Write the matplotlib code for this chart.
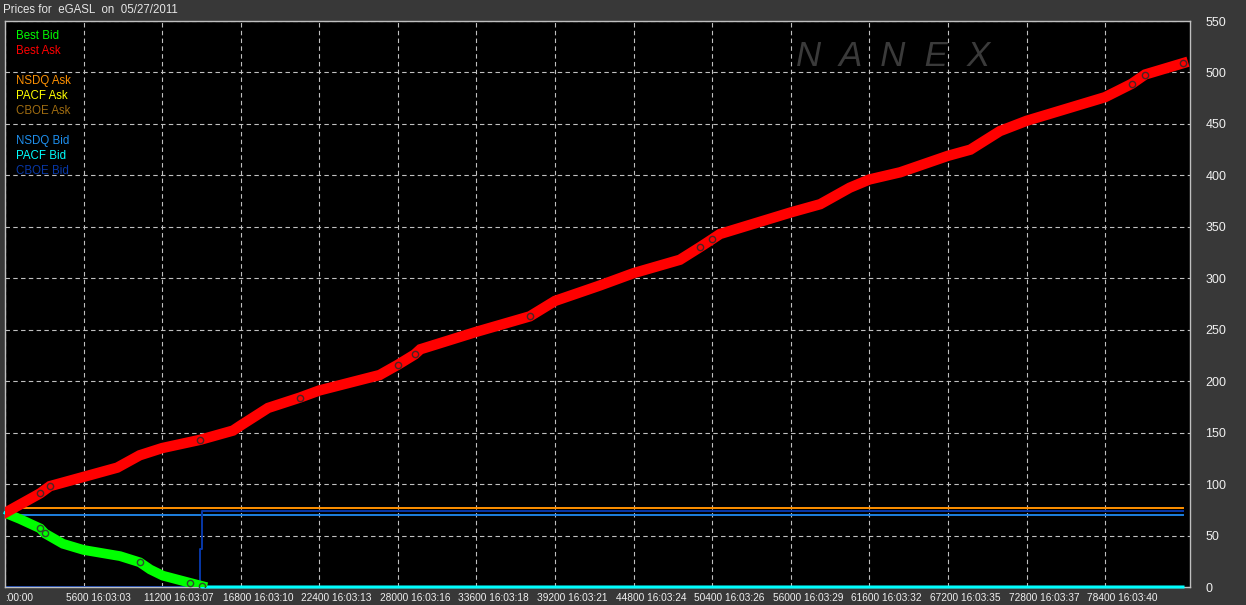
import matplotlib
matplotlib.use("Agg")
import matplotlib.pyplot as plt
import matplotlib.transforms as mtransforms

# ---- data ----
ask_t = [0, 2500, 3200, 5600, 8000, 9600, 11200, 13900, 16250, 16800, 18750, 21000,
         22400, 26700, 28000, 29200, 29600, 33600, 37400, 39200, 42400, 44800, 48100,
         49500, 50400, 50950, 56000, 58100, 60200, 61600, 63800, 67200, 68800, 70900,
         72800, 78400, 80300, 81250, 83950]
ask_v = [72, 91, 98, 107, 116, 128, 135, 143, 152, 157, 174, 184,
         191, 206, 216, 226, 231, 248, 263, 278, 293, 305, 318,
         330, 338, 343, 364, 372, 388, 396, 403, 419, 425, 443,
         453, 476, 489, 498, 509]
# spots where the ask trace shows darker quote circles
ask_ring_t = [2500, 3200, 13900, 21000, 28000, 29200, 37400, 49500, 50400, 80300, 81250, 83950]
ask_ring_v = [91, 98, 143, 184, 216, 226, 263, 330, 338, 489, 498, 509]

bid_t = [0, 1070, 2500, 2850, 4130, 5600, 8200, 9600, 10350, 11250, 13200, 14050]
bid_v = [72, 66, 57, 52, 42, 36, 30, 24, 17, 11, 4, 1]
bid_ring_t = [2500, 2850, 9600, 13200, 14050]
bid_ring_v = [57, 52, 24, 4, 1]

t_end = 83950
nsdq_ask = 76.5
nsdq_bid = 70
cboe_bid_t = [0, 13900, 13900, 14050, 14050, t_end]
cboe_bid_v = [0, 0, 37, 37, 73.4, 73.4]
pacf_bid_t = bid_t + [t_end]
pacf_bid_v = bid_v[:-1] + [0, 0]

xticks = [0, 5600, 11200, 16800, 22400, 28000, 33600, 39200, 44800, 50400,
          56000, 61600, 67200, 72800, 78400]
xtimes = [":00:00", "16:03:03", "16:03:07", "16:03:10", "16:03:13", "16:03:16",
          "16:03:18", "16:03:21", "16:03:24", "16:03:26", "16:03:29", "16:03:32",
          "16:03:35", "16:03:37", "16:03:40"]
yticks = [0, 50, 100, 150, 200, 250, 300, 350, 400, 450, 500, 550]

legend_names = ["Best Bid", "Best Ask", "", "NSDQ Ask", "PACF Ask", "CBOE Ask", "",
                "NSDQ Bid", "PACF Bid", "CBOE Bid"]
legend_cols = ["#00ff00", "#ff0000", None, "#ff9000", "#ffff00", "#a06c10", None,
               "#1e90f0", "#00ffff", "#0838a8"]

plt.rcParams['font.family'] = ['Liberation Sans', 'DejaVu Sans']

bg = "#383838"
fig = plt.figure(figsize=(12.46, 6.05), dpi=100, facecolor=bg)
ax = fig.add_axes([5/1246, 1-587/605, 1185/1246, 566/605])
ax.set_facecolor("black")

ax.plot([0, t_end], [nsdq_ask, nsdq_ask], color="#ff9000", lw=1.4, zorder=2)
ax.plot([0, t_end], [nsdq_bid, nsdq_bid], color="#1e80e0", lw=1.4, zorder=2)
ax.plot(cboe_bid_t, cboe_bid_v, color="#0838a8", lw=1.4, zorder=2)
ax.plot(pacf_bid_t, pacf_bid_v, color="#00ffff", lw=2.2, zorder=3, clip_on=False)

ax.plot(bid_t, bid_v, color="#00ff00", lw=7, solid_joinstyle="miter", zorder=4)
ax.plot(bid_ring_t, bid_ring_v, ls="none", marker="o", ms=4.5, mfc="none", mec="#2e4a2e", mew=1, zorder=5)
ax.plot(ask_t, ask_v, color="#ff0000", lw=7.5, solid_joinstyle="miter", zorder=4)
ax.plot(ask_ring_t, ask_ring_v, ls="none", marker="o", ms=4.5, mfc="none", mec="#4a2424", mew=1, zorder=5)

ax.set_xlim(0, 84450)
ax.set_ylim(0, 550)

ax.grid(True, color="#c0c0c0", ls=(0, (4, 3)), lw=0.8)
ax.set_axisbelow(True)
for s in ax.spines.values():
    s.set_color("#c0c0c0")
    s.set_linewidth(1)

ax.yaxis.tick_right()
ax.set_yticks(yticks)
ax.set_yticklabels([str(v) for v in yticks])
ax.tick_params(axis="y", length=0, pad=11, labelsize=9, labelcolor="#f0f0f0")

ax.set_xticks(xticks)
ax.set_xticklabels([xtimes[0]] + [f"{t} {s}" for t, s in zip(xticks[1:], xtimes[1:])])
ax.tick_params(axis="x", length=0, pad=4, labelcolor="#f0f0f0", labelsize=7.3)
for i, lbl in enumerate(ax.get_xticklabels()):
    lbl.set_horizontalalignment("left")
    shift = 0.0 if i == 0 else -0.18
    lbl.set_transform(lbl.get_transform() + mtransforms.ScaledTranslation(shift, 0, fig.dpi_scale_trans))

# legend text block in the upper left
for i, (name, col) in enumerate(zip(legend_names, legend_cols)):
    if name:
        fig.text(16/1246, 1 - (36 + 15*i)/605, name, color=col, fontsize=8.3, va="center")

fig.text(3/1246, 1 - 10/605, "Prices for  eGASL  on  05/27/2011", color="#e6e6e6",
         fontsize=8.3, va="center")

ax.text(893/1246, 1 - 57/605, "N  A  N  E  X", transform=fig.transFigure, color="#3a3a3a",
        fontsize=25, style="italic", ha="center", va="center", zorder=1)

fig.savefig("out.png", dpi=100, facecolor=bg)
